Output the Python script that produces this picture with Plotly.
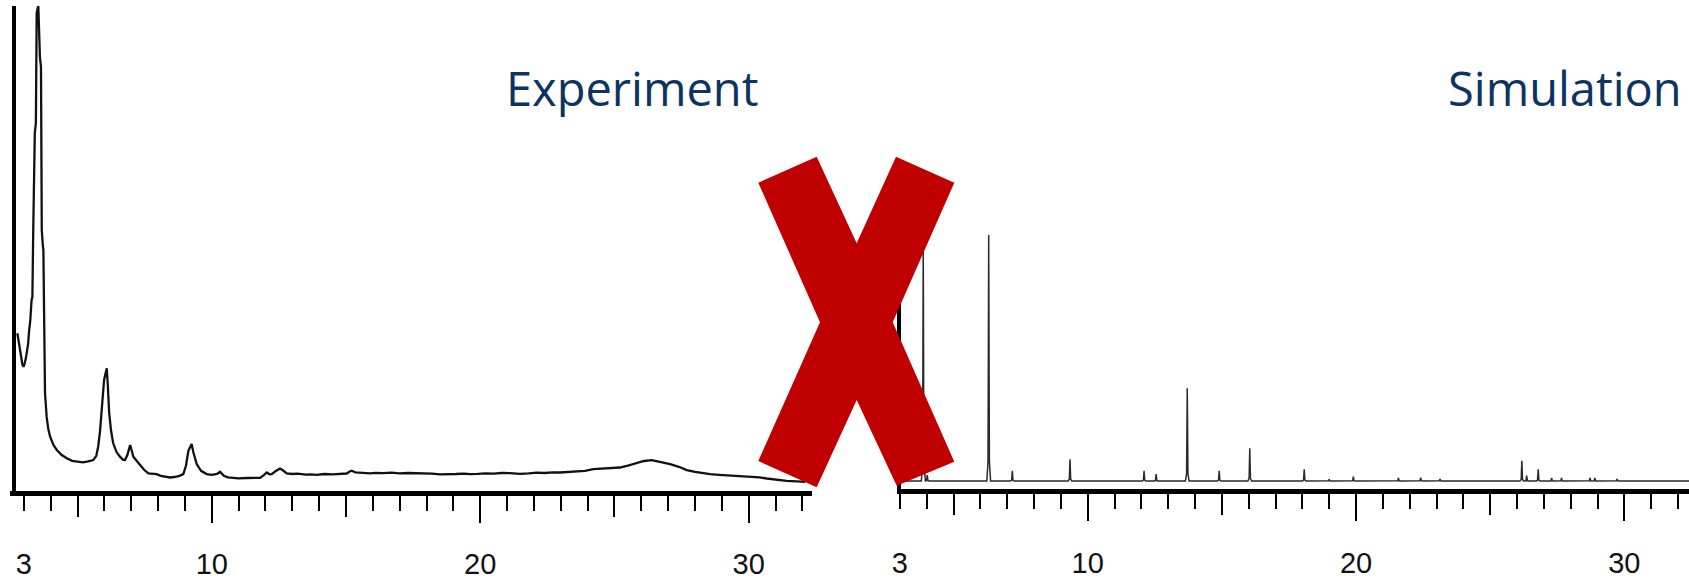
import plotly.graph_objects as go

W, H = 1689, 581

# ---------------- data ----------------
exp_2theta = [2.76, 2.79, 2.84, 2.90, 2.95, 2.99, 3.03, 3.08, 3.11, 3.16, 3.20, 3.24, 3.29, 3.32, 3.35, 3.38,
              3.41, 3.45, 3.48, 3.51, 3.54, 3.57, 3.60, 3.64, 3.67, 3.71, 3.73, 3.75, 3.79, 3.85, 3.91, 3.98,
              4.10, 4.23, 4.40, 4.60, 4.80, 5.00, 5.20, 5.40, 5.59, 5.70, 5.77, 5.84, 5.90, 5.99, 6.05, 6.09,
              6.13, 6.18, 6.25, 6.33, 6.45, 6.58, 6.70, 6.77, 6.86, 6.93, 6.96, 7.02, 7.08, 7.20, 7.33, 7.48,
              7.64, 7.80, 7.95, 8.10, 8.30, 8.45, 8.60, 8.80, 8.94, 9.04, 9.13, 9.25, 9.32, 9.44, 9.60, 9.81,
              10.00, 10.20, 10.31, 10.45, 10.60, 10.80, 11.00, 11.30, 11.60, 11.80, 11.95, 12.05, 12.15, 12.23,
              12.40, 12.54, 12.65, 12.79, 13.00, 13.20, 13.50, 13.70, 13.91, 14.20, 14.50, 14.80, 15.03, 15.12,
              15.21, 15.35, 15.60, 15.90, 16.10, 16.39, 16.70, 17.00, 17.30, 17.63, 17.90, 18.20, 18.50, 18.80,
              19.10, 19.40, 19.62, 19.90, 20.20, 20.50, 20.80, 21.10, 21.48, 21.80, 22.10, 22.40, 22.70, 22.97,
              23.30, 23.60, 23.90, 24.21, 24.50, 24.80, 25.20, 25.50, 25.83, 26.10, 26.39, 26.70, 27.07, 27.40,
              27.69, 28.00, 28.30, 28.56, 28.90, 29.20, 29.55, 29.90, 30.17, 30.40, 30.67, 31.00, 31.41, 31.80,
              32.10]
exp_intensity = [1575, 1520, 1430, 1330, 1260, 1240, 1270, 1330, 1378, 1470, 1608, 1700, 1908, 1938, 2578, 3200,
                 3578, 3678, 4778, 4820, 4848, 4600, 4338, 4238, 2608, 2450, 2408, 1908, 978, 741, 620, 541,
                 460, 408, 360, 325, 300, 292, 285, 295, 308, 350, 441, 600, 778, 1108, 1180, 1225,
                 1050, 778, 600, 475, 390, 341, 310, 308, 360, 440, 458, 400, 341, 300, 258, 210,
                 175, 170, 167, 150, 140, 133, 138, 150, 167, 250, 400, 467, 380, 267, 200, 167,
                 160, 170, 190, 150, 135, 127, 125, 128, 125, 130, 160, 183, 165, 167,
                 200, 223, 205, 173, 168, 172, 162, 165, 160, 168, 165, 172, 173, 190,
                 200, 185, 178, 174, 180, 177, 182, 175, 178, 177, 170, 172, 165, 170,
                 168, 172, 167, 170, 175, 172, 178, 176, 170, 175, 182, 178, 185, 183,
                 190, 196, 200, 217, 222, 228, 233, 252, 277, 298, 307, 290, 267, 240,
                 207, 190, 175, 167, 160, 155, 150, 146, 143, 135, 123, 112, 100, 95,
                 90]

sim_peak_2theta = [3.87, 4.02, 6.31, 7.19, 9.34, 12.10, 12.55, 13.71, 14.90, 16.04, 18.07, 19.00, 19.90,
                   21.58, 22.41, 23.13, 26.18, 26.36, 26.79, 27.29, 27.66, 28.72, 28.90, 29.73]
sim_peak_intensity = [2450, 135, 2535, 178, 292, 178, 145, 1002, 178, 402, 192, 92, 118,
                      105, 108, 95, 278, 128, 192, 105, 105, 105, 105, 95]
sim_baseline = 75
sim_start, sim_end = 3.0, 32.45

tick_minor = list(range(3, 33))
tick_mid = [5, 15, 25]
tick_major = [10, 20, 30]
tick_label_vals = [3, 10, 20, 30]
tick_label_text = ["3", "10", "20", "30"]

# ---------------- build simulated profile from peak list ----------------
w_out, w_in, foot = 0.07, 0.025, 0.08
sx, sy = [sim_start], [sim_baseline]
for p, h in sorted(zip(sim_peak_2theta, sim_peak_intensity)):
    f = sim_baseline + foot * (h - sim_baseline)
    sx += [p - w_out, p - w_in, p, p + w_in, p + w_out]
    sy += [sim_baseline, f, h, f, sim_baseline]
sx.append(sim_end)
sy.append(sim_baseline)

# ---------------- layout geometry (pixels -> paper) ----------------
def px(x):
    return x / W

def py(y):
    return 1 - y / H

L_x0, L_x1 = 10, 811.7
R_x0, R_x1 = 896.7, W
L_axis_y, R_axis_y = 490.8, 488.5
L_top, R_top = 6, 230
L_range = [2.486, 32.345]
R_range = [2.881, 32.41]

fig = go.Figure()
fig.add_trace(go.Scatter(x=exp_2theta, y=exp_intensity, mode="lines",
                         line=dict(color="#111111", width=2.3), xaxis="x", yaxis="y",
                         showlegend=False, hoverinfo="skip"))
fig.add_trace(go.Scatter(x=sx, y=sy, mode="lines",
                         line=dict(color="#2a2a2a", width=1.5), xaxis="x2", yaxis="y2",
                         showlegend=False, hoverinfo="skip"))
# empty traces so that the overlaid tick axes get drawn
for xa, ya in [("x3", "y"), ("x4", "y"), ("x5", "y"), ("x6", "y2"), ("x7", "y2"), ("x8", "y2")]:
    fig.add_trace(go.Scatter(x=[None], y=[None], mode="lines", xaxis=xa, yaxis=ya,
                             showlegend=False, hoverinfo="skip"))

label_font = dict(family="Liberation Sans, Arial", size=29, color="#111111")

def base_x(domain, rng, anchor):
    return dict(domain=domain, range=rng, anchor=anchor, showline=True, linecolor="black",
                linewidth=5, showgrid=False, zeroline=False, ticks="outside",
                tickmode="array", tickvals=tick_minor, ticklen=15, tickwidth=2,
                tickcolor="black", showticklabels=False, fixedrange=True, automargin=False)

def over_x(base, domain, rng, anchor, vals, ln, labels=False):
    d = dict(overlaying=base, domain=domain, range=rng, anchor=anchor, side="bottom",
             showline=False, showgrid=False, zeroline=False, ticks="outside",
             tickmode="array", tickvals=vals, ticklen=ln, tickwidth=2, tickcolor="black",
             showticklabels=False, fixedrange=True, automargin=False)
    if labels:
        d.update(ticktext=tick_label_text, showticklabels=True, tickfont=label_font,
                 tickcolor="rgba(0,0,0,0)")
    return d

Ld = [px(L_x0), px(L_x1)]
Rd = [px(R_x0), 1.0]

fig.update_layout(
    width=W, height=H, margin=dict(l=0, r=0, t=0, b=0, autoexpand=False),
    paper_bgcolor="white", plot_bgcolor="white", showlegend=False,
    xaxis=base_x(Ld, L_range, "y"),
    xaxis3=over_x("x", Ld, L_range, "y", tick_mid, 25),
    xaxis4=over_x("x", Ld, L_range, "y", tick_major, 31),
    xaxis5=over_x("x", Ld, L_range, "y", tick_label_vals, 47, labels=True),
    xaxis2=base_x(Rd, R_range, "y2"),
    xaxis6=over_x("x2", Rd, R_range, "y2", tick_mid, 25),
    xaxis7=over_x("x2", Rd, R_range, "y2", tick_major, 31),
    xaxis8=over_x("x2", Rd, R_range, "y2", tick_label_vals, 49, labels=True),
    yaxis=dict(domain=[py(L_axis_y), py(L_top)], range=[0, (L_axis_y - L_top) * 10],
               anchor="free", position=px(13.7), showline=True, linecolor="black", linewidth=4,
               showgrid=False, zeroline=False, ticks="", showticklabels=False, fixedrange=True,
               automargin=False),
    yaxis2=dict(domain=[py(R_axis_y), py(R_top)], range=[0, (R_axis_y - R_top) * 10],
                anchor="free", position=px(899), showline=True, linecolor="black", linewidth=4,
                showgrid=False, zeroline=False, ticks="", showticklabels=False, fixedrange=True,
                automargin=False),
)

title_font = dict(family="Open Sans", size=47, color="#0B3461")
fig.add_annotation(text="Experiment", x=px(760), y=py(88), xref="paper", yref="paper",
                   xanchor="right", yanchor="middle", showarrow=False, font=title_font)
fig.add_annotation(text="Simulation", x=px(1684), y=py(88), xref="paper", yref="paper",
                   xanchor="right", yanchor="middle", showarrow=False, font=title_font)

# red cross drawn over both panels
cross_px = [(758.3, 182.7), (816.7, 156.7), (856.7, 243.3), (896.0, 156.7), (954.3, 182.7),
            (892.7, 322.3), (954.3, 461.7), (896.7, 485.7), (856.7, 400.0), (816.7, 487.3),
            (758.3, 461.0), (820.0, 322.3)]
path = "M " + " L ".join(f"{px(x):.5f},{py(y):.5f}" for x, y in cross_px) + " Z"
fig.add_shape(type="path", path=path, xref="paper", yref="paper",
              fillcolor="#C00000", line=dict(width=0), layer="above")

fig.write_html("out.html")
